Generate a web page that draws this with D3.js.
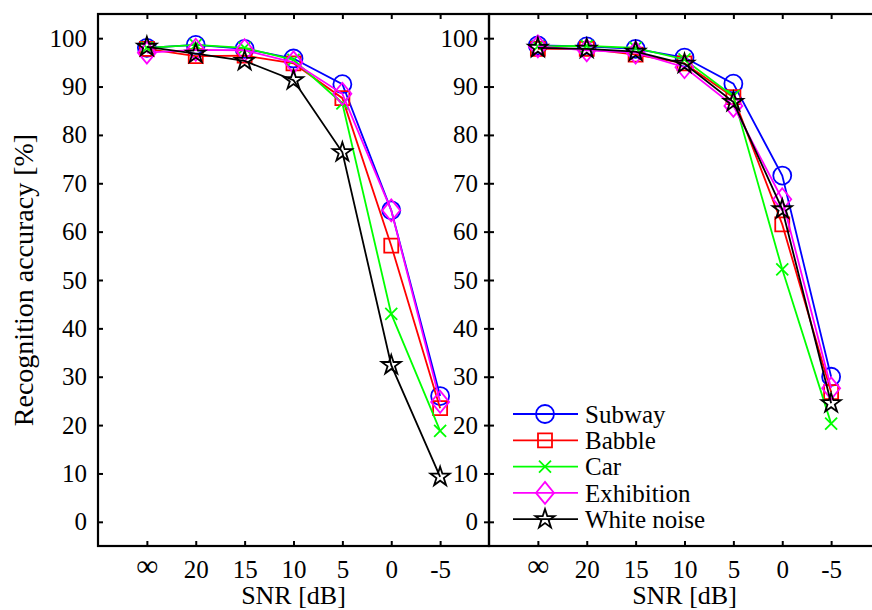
<!DOCTYPE html>
<html>
<head>
<meta charset="utf-8">
<script src="https://cdn.jsdelivr.net/npm/d3@7"></script>
<style>
    body { margin: 0; background: #fff; }
    svg text { font-family: "Liberation Serif", "DejaVu Serif", serif; fill: #000; }
</style>
</head>
<body>
<div id="chart"></div>
<script>
// SNR conditions (x categories)
let snrLabels = ["\u221E", "20", "15", "10", "5", "0", "-5"];
let yTicks = [0, 10, 20, 30, 40, 50, 60, 70, 80, 90, 100];

let seriesNames = ["Subway", "Babble", "Car", "Exhibition", "White noise"];
let seriesColors = ["#0000ff", "#ff0000", "#00ff00", "#ff00ff", "#000000"];
let seriesMarkers = ["circle", "square", "x", "diamond", "star"];

// left panel values
let leftSubway = [98.0, 98.6, 97.8, 95.8, 90.5, 64.4, 26.0];
let leftBabble = [97.8, 96.3, 96.4, 94.8, 87.6, 57.1, 23.5];
let leftCar = [98.0, 98.6, 98.0, 95.5, 86.5, 43.0, 18.8];
let leftExhibition = [97.0, 97.6, 97.5, 95.0, 88.5, 64.4, 24.8];
let leftWhite = [98.2, 96.8, 95.3, 91.3, 76.4, 32.4, 9.3];

// right panel values
let rightSubway = [98.5, 98.3, 97.8, 96.0, 90.6, 71.6, 30.0];
let rightBabble = [97.8, 97.8, 96.6, 94.8, 87.8, 61.5, 26.8];
let rightCar = [98.3, 98.4, 98.0, 95.6, 88.0, 52.2, 20.3];
let rightExhibition = [98.3, 97.5, 97.0, 94.0, 86.0, 66.7, 27.6];
let rightWhite = [98.0, 97.8, 97.2, 94.7, 86.8, 64.6, 24.5];

let leftData = [leftSubway, leftBabble, leftCar, leftExhibition, leftWhite];
let rightData = [rightSubway, rightBabble, rightCar, rightExhibition, rightWhite];

let width = 872, height = 610;
let plotTop = 14, plotBottom = 546;

let svg = d3.select("#chart").append("svg")
    .attr("width", width)
    .attr("height", height);

let y = d3.scaleLinear().domain([-5, 105]).range([plotBottom, plotTop]);

function markerPath(type) {
    if (type == "circle") return d3.symbol(d3.symbolCircle, Math.PI * 81)();
    if (type == "square") return "M-7,-7L7,-7L7,7L-7,7Z";
    if (type == "x") return "M-6,-6L6,6M-6,6L6,-6";
    if (type == "diamond") return "M0,-11L9,0L0,11L-9,0Z";
    return d3.symbol(d3.symbolStar, 115)();
}

function drawPanel(x0, x1, data) {
    let x = d3.scaleLinear().domain([-1, 7]).range([x0, x1]);
    let idx = d3.range(snrLabels.length);
    let g = svg.append("g");

    // ticks on all four sides, pointing inward
    g.append("g")
        .attr("transform", `translate(${x0},0)`)
        .call(d3.axisLeft(y).tickValues(yTicks).tickSize(-5).tickPadding(11))
        .call(a => a.select(".domain").remove())
        .call(a => a.selectAll("text").attr("font-size", 25));
    g.append("g")
        .attr("transform", `translate(${x1},0)`)
        .call(d3.axisRight(y).tickValues(yTicks).tickSize(-5).tickFormat(""))
        .call(a => a.select(".domain").remove());
    g.append("g")
        .attr("transform", `translate(0,${plotBottom})`)
        .call(d3.axisBottom(x).tickValues(idx).tickSize(-5).tickPadding(14)
            .tickFormat(i => snrLabels[i]))
        .call(a => a.select(".domain").remove())
        .call(a => a.selectAll("text").attr("font-size", 25))
        .call(a => a.selectAll("text").filter(i => i == 0)
            .attr("font-size", 31).attr("dy", "0.5em"));
    g.append("g")
        .attr("transform", `translate(0,${plotTop})`)
        .call(d3.axisTop(x).tickValues(idx).tickSize(-5).tickFormat(""))
        .call(a => a.select(".domain").remove());
    g.selectAll(".tick line").attr("stroke", "#000").attr("stroke-width", 2);

    g.append("rect")
        .attr("x", x0).attr("y", plotTop)
        .attr("width", x1 - x0).attr("height", plotBottom - plotTop)
        .attr("fill", "none").attr("stroke", "#000").attr("stroke-width", 2.2);

    g.append("text")
        .attr("x", x(3)).attr("y", 604)
        .attr("text-anchor", "middle")
        .attr("font-size", 26)
        .text("SNR [dB]");

    let line = d3.line().x((d, i) => x(i)).y(d => y(d));

    data.forEach((vals, s) => {
        let sg = g.append("g");
        sg.append("path")
            .attr("d", line(vals))
            .attr("fill", "none")
            .attr("stroke", seriesColors[s])
            .attr("stroke-width", 1.8);
        sg.selectAll("path.m")
            .data(vals)
            .enter()
            .append("path")
            .attr("class", "m")
            .attr("transform", (d, i) => `translate(${x(i)},${y(d)})`)
            .attr("d", markerPath(seriesMarkers[s]))
            .attr("fill", "none")
            .attr("stroke", seriesColors[s])
            .attr("stroke-width", 1.8);
    });
}

drawPanel(98, 489, leftData);
drawPanel(489, 880, rightData);

// y label
svg.append("text")
    .attr("transform", "translate(33,280) rotate(-90)")
    .attr("text-anchor", "middle")
    .attr("font-size", 28)
    .text("Recognition accuracy [%]");

// legend
let legend = svg.append("g");
seriesNames.forEach((name, s) => {
    let ly = 414 + s * 26.3;
    legend.append("line")
        .attr("x1", 513).attr("x2", 578)
        .attr("y1", ly).attr("y2", ly)
        .attr("stroke", seriesColors[s]).attr("stroke-width", 1.8);
    legend.append("path")
        .attr("transform", `translate(545,${ly})`)
        .attr("d", markerPath(seriesMarkers[s]))
        .attr("fill", "none")
        .attr("stroke", seriesColors[s]).attr("stroke-width", 1.8);
    legend.append("text")
        .attr("x", 585).attr("y", ly)
        .attr("dy", "0.35em")
        .attr("font-size", 25)
        .text(name);
});
</script>
</body>
</html>
